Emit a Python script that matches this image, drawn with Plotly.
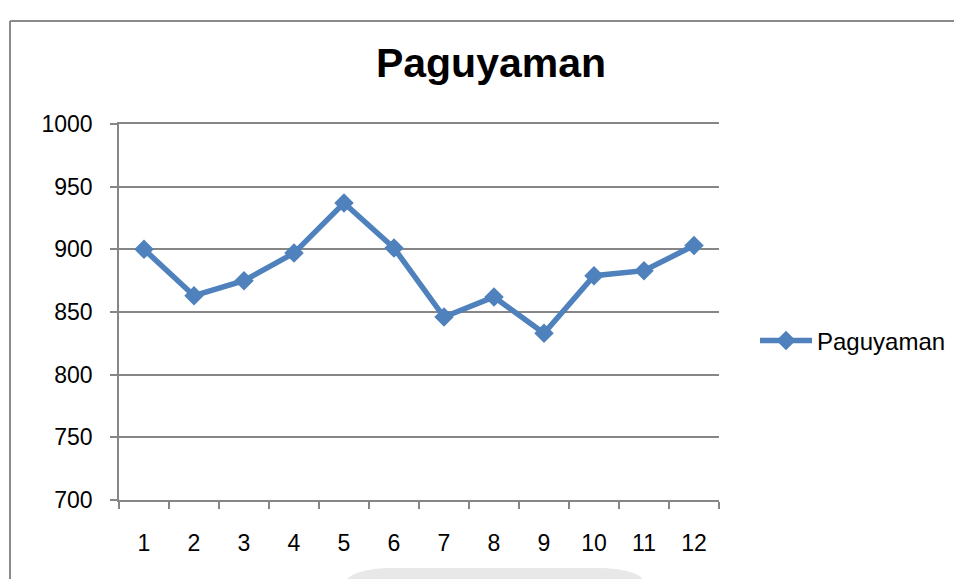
import plotly.graph_objects as go

months = ["1", "2", "3", "4", "5", "6", "7", "8", "9", "10", "11", "12"]
values = [900, 863, 875, 897, 937, 901, 846, 862, 833, 879, 883, 903]
series_name = "Paguyaman"
y_ticks = [700, 750, 800, 850, 900, 950, 1000]

BLUE = "#4F81BD"
GRID = "#868686"
FONT = "Liberation Sans, Arial, sans-serif"

fig = go.Figure()
fig.add_trace(go.Scatter(
    x=months, y=values, name=series_name, mode="lines+markers",
    line=dict(color=BLUE, width=5.5),
    marker=dict(symbol="diamond", size=15, color=BLUE),
))

def px(x):
    return (x - 119) / 600

def py(y):
    return (500 - y) / 376

fig.update_layout(
    width=954, height=579,
    margin=dict(l=119, r=235, t=124, b=79, autoexpand=False),
    paper_bgcolor="white", plot_bgcolor="white",
    font=dict(family=FONT, size=23, color="#000000"),
    title=dict(text="<b>Paguyaman</b>", x=491/954, xref="container", xanchor="center",
               y=1 - 63/579, yref="container", yanchor="middle",
               font=dict(family=FONT, size=41, color="#000000")),
    showlegend=True,
    legend=dict(x=1.06, xanchor="left", y=0.423, yanchor="middle", itemwidth=52,
                font=dict(family=FONT, size=24), bgcolor="rgba(0,0,0,0)"),
    xaxis=dict(type="category", range=[-0.5, len(months) - 0.5], showgrid=False,
               showline=True, linecolor=GRID, linewidth=1.5, mirror=True,
               ticks="outside", tickson="boundaries", ticklen=7, tickcolor=GRID, tickwidth=1.5,
               ticklabelstandoff=22, zeroline=False),
    yaxis=dict(range=[700, 1000], tickvals=y_ticks, showgrid=True, gridcolor=GRID, gridwidth=1.5,
               showline=True, linecolor=GRID, linewidth=1.5, ticks="outside", ticklen=7,
               tickcolor=GRID, tickwidth=1.5, ticklabelstandoff=13, zeroline=False),
    shapes=[
        dict(type="line", xref="paper", yref="paper", x0=px(10), x1=px(10),
             y0=py(21), y1=-0.5, line=dict(color="#8a8a8a", width=2)),
        dict(type="line", xref="paper", yref="paper", x0=px(10), x1=1.6,
             y0=py(21), y1=py(21), line=dict(color="#8a8a8a", width=2)),
        dict(type="path", xref="paper", yref="paper",
             path="M %f %f Q %f %f %f %f L %f %f Q %f %f %f %f Z" % (
                 px(345), py(582), px(352), py(569), px(390), py(568),
                 px(600), py(568), px(638), py(569), px(645), py(582)),
             fillcolor="#e8e8e8", line=dict(width=0), layer="below"),
    ],
)

fig.write_html("out.html", config={"displayModeBar": False},
               post_script="document.body.style.margin='0px';document.body.style.overflow='hidden';")
